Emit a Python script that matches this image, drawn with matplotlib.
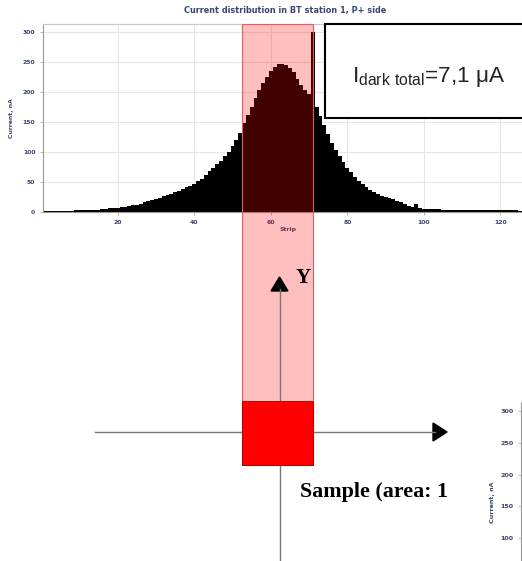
import numpy as np
import matplotlib
matplotlib.use('Agg')
import matplotlib.pyplot as plt
from matplotlib.patches import Rectangle, Polygon
from matplotlib.transforms import blended_transform_factory

# dark current per strip, nA (strips 1..128)
current = [1, 1, 1, 1, 2, 2, 2, 2, 3, 3,
           3, 3, 4, 4, 4, 5, 5, 6, 6, 7,
           8, 9, 10, 11, 12, 14, 16, 18, 20, 22,
           24, 26, 28, 30, 33, 35, 38, 41, 44, 47,
           51, 55, 61, 68, 74, 80, 86, 93, 101, 110,
           120, 132, 148, 162, 176, 190, 203, 215, 226, 236,
           243, 247, 248, 246, 241, 233, 222, 212, 204, 197,
           300, 176, 160, 145, 130, 116, 104, 93, 83, 74,
           66, 59, 52, 46, 41, 37, 33, 30, 27, 25,
           23, 21, 18, 16, 13, 10, 8, 14, 6, 5,
           5, 5, 5, 5, 4, 4, 4, 4, 4, 4,
           4, 4, 4, 3, 3, 3, 3, 3, 3, 3,
           3, 3, 3, 3, 2, 2, 2, 2]
strips = np.arange(1, len(current) + 1)
sample_strips = (52.6, 70.9)   # strips covered by the sample

title = 'Current distribution in BT station 1, P+ side'
label_color = '#3a4870'

W, H = 522, 561
fig = plt.figure(figsize=(W / 100, H / 100), dpi=100)

def fx(x):
    return x / W

def fy(y):
    return 1 - y / H

def style_hist(ax, fs):
    ax.bar(strips, current, width=1.0, color='black', linewidth=0)
    ax.set_xlim(0.5, 128.5)
    ax.set_ylim(0, 314)
    ax.set_xticks([20, 40, 60, 80, 100, 120])
    ax.set_yticks([0, 50, 100, 150, 200, 250, 300])
    ax.grid(True, color='#e6e6e6', linewidth=0.8)
    ax.set_axisbelow(True)
    for s in ax.spines.values():
        s.set_color('#c8c8c8')
    ax.spines['left'].set_color('#999999')
    ax.spines['bottom'].set_color('#999999')
    ax.tick_params(labelsize=fs, colors='#aaaaaa', labelcolor=label_color,
                   length=2, width=0.6)
    for t in ax.get_xticklabels() + ax.get_yticklabels():
        t.set_fontweight('bold')
    ax.set_ylabel('Current, nA', fontsize=fs, fontweight='bold', color=label_color)

# main histogram
ax = fig.add_axes([fx(43), fy(212), (533 - 43) / W, (212 - 24) / H])
style_hist(ax, 4.4)
ax.set_xlabel('Strip', fontsize=4.4, fontweight='bold', color=label_color, labelpad=2)
ax.yaxis.labelpad = 6
fig.text(fx(285), fy(10), title, ha='center', va='center', fontsize=5.9,
         fontweight='bold', color=label_color)

# cropped copy of the same chart in the corner (only its upper part shows)
ax2 = fig.add_axes([fx(521), fy(602), 0.6, (602 - 402) / H])
style_hist(ax2, 4.6)
ax2.set_yticks([100, 150, 200, 250, 300])
for t in ax2.get_yticklabels():
    t.set_fontweight('bold')
ax2.tick_params(axis='x', labelbottom=False)
ax2.yaxis.labelpad = 4

# sample band across chart and sketch
tr = blended_transform_factory(ax.transData, fig.transFigure)
band = Rectangle((sample_strips[0], fy(465)), sample_strips[1] - sample_strips[0],
                 fy(24) - fy(465), transform=tr, facecolor=(1, 0, 0, 0.25),
                 edgecolor='#e06060', linewidth=0.8, zorder=1)
fig.add_artist(band)
square = Rectangle((sample_strips[0], fy(465)), sample_strips[1] - sample_strips[0],
                   fy(401) - fy(465), transform=tr, facecolor='#ff0000',
                   edgecolor='#a00000', linewidth=0.6, zorder=3)
fig.add_artist(square)

# overlay in pixel coordinates for the sketch
ov = fig.add_axes([0, 0, 1, 1], zorder=2)
ov.set_xlim(0, W)
ov.set_ylim(H, 0)
ov.axis('off')

ov.plot([95, 435], [432, 432], color='#787878', linewidth=1)
ov.add_patch(Polygon([[433, 423], [433, 441], [447, 432]], closed=True, color='black'))
ov.plot([279.5, 279.5], [289, 561], color='#787878', linewidth=1)
ov.add_patch(Polygon([[271, 291], [288, 291], [279.5, 277]], closed=True, color='black'))
ov.text(296, 278, 'Y', fontsize=15, fontweight='bold', family='Liberation Serif',
        ha='left', va='center')
ov.text(300, 492, 'Sample (area: 1', fontsize=15.8, fontweight='bold',
        family='Liberation Serif', ha='left', va='center')

ov.add_patch(Rectangle((325, 24), 220, 94, facecolor='white', edgecolor='black',
                       linewidth=1.5))
plt.rcParams['mathtext.fontset'] = 'custom'
plt.rcParams['mathtext.rm'] = 'Liberation Sans'
ov.text(352, 82, r'$\mathregular{I_{dark\ total}}$=7,1 μA', fontsize=16.2,
        family='Liberation Sans', ha='left', va='baseline', color='#222222')

fig.savefig('out.png', dpi=100)
